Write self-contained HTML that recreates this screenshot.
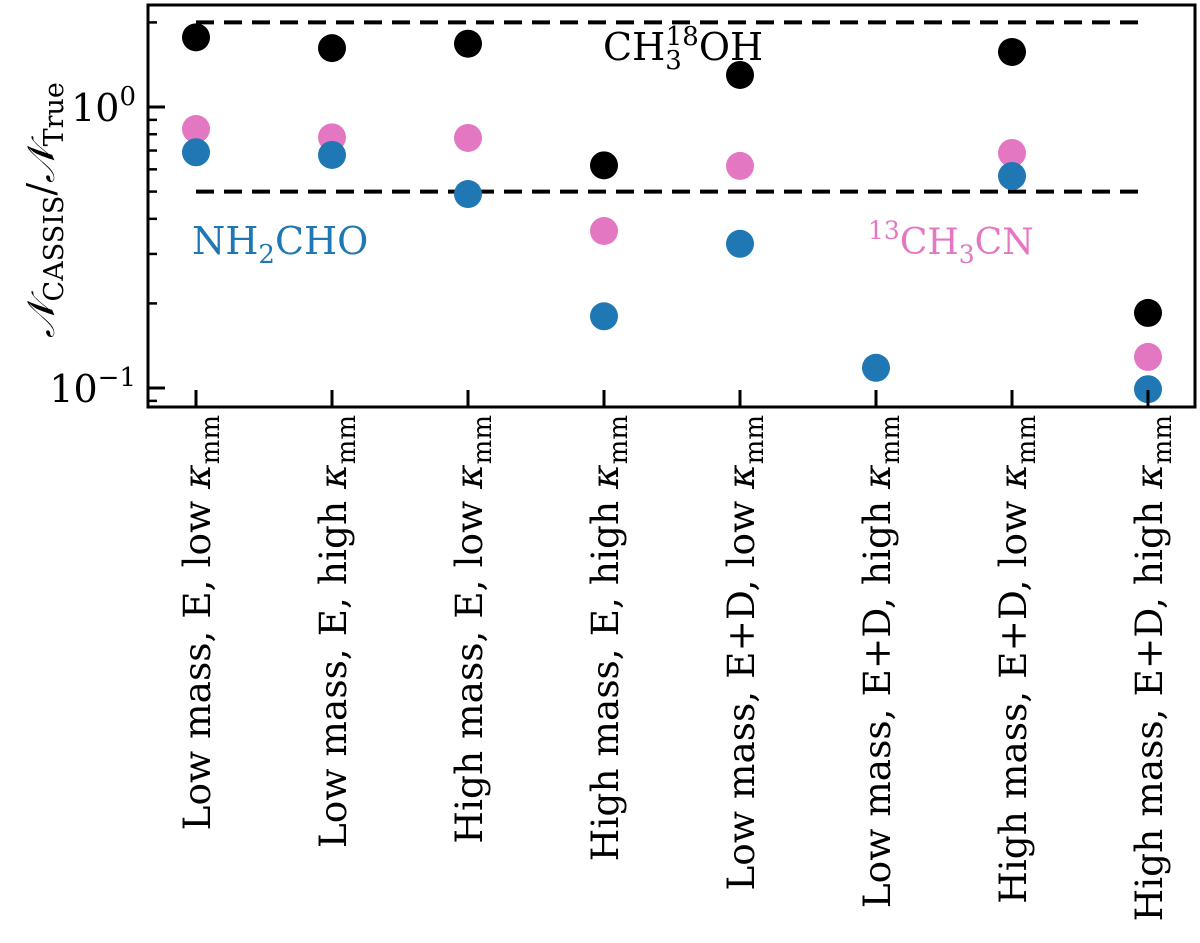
<!DOCTYPE html>
<html><head><meta charset="utf-8"><style>
body{margin:0;background:#fff}
svg{display:block}
text{font-family:"DejaVu Serif","Liberation Serif",serif}
</style></head><body>
<svg id="chart" width="1200" height="943" viewBox="0 0 1200 943" xmlns="http://www.w3.org/2000/svg">
<g id="grid"></g>
<g id="marks"></g>
<g id="axes"></g>
</svg>
<script>
const categories = ["Low mass, E, low ", "Low mass, E, high ", "High mass, E, low ", "High mass, E, high ", "Low mass, E+D, low ", "Low mass, E+D, high ", "High mass, E+D, low ", "High mass, E+D, high "];
const ch3oh18 = [1.77, 1.62, 1.68, 0.62, 1.30, null, 1.57, 0.185];
const ch3cn13 = [0.835, 0.78, 0.776, 0.362, 0.617, null, 0.686, 0.129];
const nh2cho = [0.69, 0.675, 0.49, 0.18, 0.326, 0.118, 0.568, 0.099];
const thresholds = [2.0, 0.5];
const majorTicks = [0.1, 1];
const minorTicks = [0.09, 0.2, 0.3, 0.4, 0.5, 0.6, 0.7, 0.8, 0.9, 2];

const NS = "http://www.w3.org/2000/svg";
const L = 148, R = 1195, T = 5, B = 407;
const y0 = 107, dec = 281;
function y(v){ return y0 - Math.log10(v) * dec; }
function x(i){ return 196 + i * (1148 - 196) / (categories.length - 1); }
function mk(tag, attrs, parent){ const e = document.createElementNS(NS, tag); for (const k in attrs) e.setAttribute(k, attrs[k]); parent.appendChild(e); return e; }
const marks = document.getElementById('marks'), axes = document.getElementById('axes'), grid = document.getElementById('grid');

thresholds.forEach((t, i) => {
  const l = mk('line', {x1: x(0), x2: x(categories.length - 1), y1: y(t), y2: y(t), stroke: '#000', 'stroke-width': 4, 'stroke-dasharray': '18 10'}, grid);
  
  
});

const series = [[ch3oh18, '#000000', 'ch3-18oh'], [ch3cn13, '#e377c2', '13ch3cn'], [nh2cho, '#1f77b4', 'nh2cho']];
series.forEach(([vals, col, nm]) => {
  vals.forEach((v, i) => {
    if (v == null) return;
    const c = mk('circle', {cx: x(i), cy: y(v), r: 14, fill: col}, marks);
    
    
  });
});

const fr = mk('rect', {x: L, y: T, width: R - L, height: B - T, fill: 'none', stroke: '#000', 'stroke-width': 3}, axes);



majorTicks.forEach((t, i) => {
  const yy = y(t);
  mk('line', {x1: L, x2: L + 17, y1: yy, y2: yy, stroke: '#000', 'stroke-width': 3}, axes);
  const tx = mk('text', {x: 136, y: yy + 14, 'text-anchor': 'end', 'font-size': 38}, axes);
  
  
  tx.textContent = '10';
  const sup = mk('tspan', {dy: -16, 'font-size': 26}, tx);
  sup.textContent = Math.log10(t) === 0 ? '0' : '\u22121';
});
minorTicks.forEach(t => {
  const yy = y(t);
  if (yy < T || yy > B) return;
  mk('line', {x1: L, x2: L + 9, y1: yy, y2: yy, stroke: '#000', 'stroke-width': 2.5}, axes);
});

categories.forEach((c, i) => {
  mk('line', {x1: x(i), x2: x(i), y1: B, y2: B - 17, stroke: '#000', 'stroke-width': 3}, axes);
  const tx = mk('text', {x: 0, y: 0, 'text-anchor': 'end', 'font-size': 37.5, transform: `translate(${x(i) + 14},415) rotate(-90)`}, axes);
  
  
  tx.textContent = c;
  const k = mk('tspan', {'font-style': 'italic'}, tx); k.textContent = '\u03BA';
  const s = mk('tspan', {dy: 9, 'font-size': 26}, tx); s.textContent = 'mm';
});

const yt = mk('text', {x: 0, y: 0, 'text-anchor': 'middle', 'font-size': 38, transform: 'translate(54,210) rotate(-90)'}, axes);


yt.innerHTML = '<tspan font-style="italic">\u{1D4A9}</tspan><tspan dy="9" font-size="27">CASSIS</tspan><tspan dy="-9">/</tspan><tspan font-style="italic">\u{1D4A9}</tspan><tspan dy="9" font-size="27">True</tspan>';

const a1 = mk('text', {x: 603, y: 60, 'font-size': 38, fill: '#000'}, axes);


a1.innerHTML = 'CH<tspan dy="9" font-size="26">3</tspan><tspan dy="-24" dx="-16" font-size="26">18</tspan><tspan dy="15">OH</tspan>';
const a2 = mk('text', {x: 192, y: 254, 'font-size': 38, fill: '#1f77b4'}, axes);


a2.innerHTML = 'NH<tspan dy="9" font-size="26">2</tspan><tspan dy="-9">CHO</tspan>';
const a3 = mk('text', {x: 868, y: 254, 'font-size': 36, fill: '#e377c2'}, axes);


a3.innerHTML = '<tspan dy="-15" font-size="25">13</tspan><tspan dy="15">CH</tspan><tspan dy="9" font-size="25">3</tspan><tspan dy="-9">CN</tspan>';
</script>
</body></html>
